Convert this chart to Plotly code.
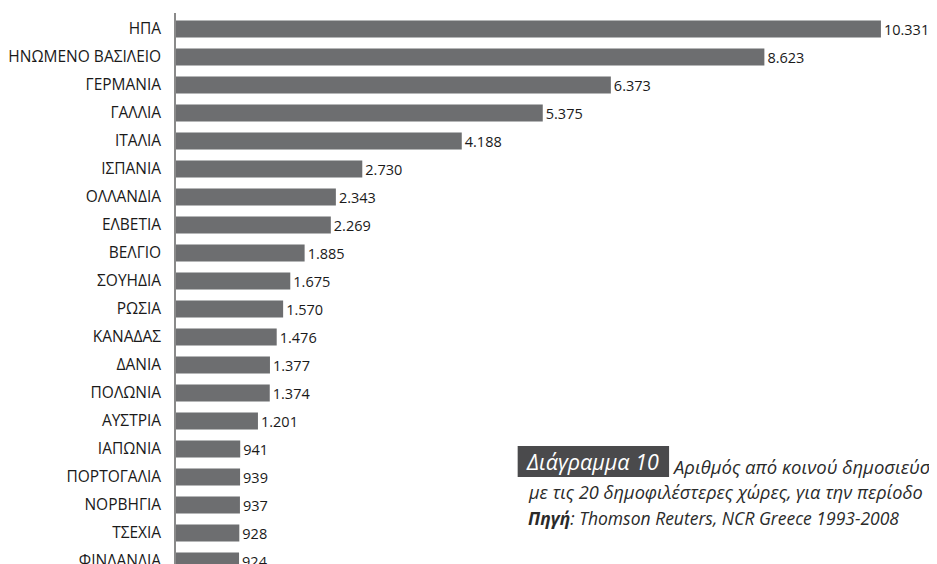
import plotly.graph_objects as go

countries = ["ΗΠΑ", "ΗΝΩΜΕΝΟ ΒΑΣΙΛΕΙΟ", "ΓΕΡΜΑΝΙΑ", "ΓΑΛΛΙΑ", "ΙΤΑΛΙΑ", "ΙΣΠΑΝΙΑ",
             "ΟΛΛΑΝΔΙΑ", "ΕΛΒΕΤΙΑ", "ΒΕΛΓΙΟ", "ΣΟΥΗΔΙΑ", "ΡΩΣΙΑ", "ΚΑΝΑΔΑΣ", "ΔΑΝΙΑ",
             "ΠΟΛΩΝΙΑ", "ΑΥΣΤΡΙΑ", "ΙΑΠΩΝΙΑ", "ΠΟΡΤΟΓΑΛΙΑ", "ΝΟΡΒΗΓΙΑ", "ΤΣΕΧΙΑ", "ΦΙΝΛΑΝΔΙΑ"]
publications = [10331, 8623, 6373, 5375, 4188, 2730, 2343, 2269, 1885, 1675, 1570,
                1476, 1377, 1374, 1201, 941, 939, 937, 928, 924]

caption_tag = "Διάγραμμα 10"
caption_line1 = "Αριθμός από κοινού δημοσιεύσεων"
caption_line2 = "με τις 20 δημοφιλέστερες χώρες, για την περίοδο"
caption_source = "<b>Πηγή</b>: Thomson Reuters, NCR Greece 1993-2008"

OFF = 8  # page body margin
W, H = 937, 564
ML, MT = 165, 5
PW, PH = W - ML, H - MT

def px(x):
    return (x - OFF - ML) / PW

def py(y):
    return (H - (y - OFF)) / PH

FONT = "Open Sans"
top = -0.5 - 2.0 / 28.0

fig = go.Figure(go.Bar(
    x=publications, y=countries, orientation="h",
    marker=dict(color="#6d6e70", line=dict(width=0)),
    width=0.61,
    texttemplate="%{x:,d}", textposition="outside", constraintext="none",
    textfont=dict(family=FONT, size=14.5, color="#1a1a1a"),
    cliponaxis=False,
))

fig.update_layout(
    width=W, height=H,
    margin=dict(l=ML, r=0, t=MT, b=0),
    paper_bgcolor="white", plot_bgcolor="white",
    separators=",.",
    showlegend=False,
    xaxis=dict(range=[0, PW / 0.0685], visible=False, fixedrange=True),
    yaxis=dict(
        type="category", range=[top + PH / 28.0, top], showgrid=False, zeroline=False,
        showline=True, linecolor="#8a8a8a", linewidth=1.5,
        ticks="", ticklabelstandoff=10,
        tickfont=dict(family=FONT, size=15.5, color="#1a1a1a"),
    ),
)

fig.add_shape(type="rect", xref="paper", yref="paper",
              x0=px(516), x1=px(668), y0=py(477), y1=py(446),
              fillcolor="#4a4a4c", line=dict(width=0), layer="above")

fig.add_annotation(xref="paper", yref="paper", x=px(522), y=py(461),
                   xanchor="left", yanchor="middle", showarrow=False,
                   text="<i>" + caption_tag + "</i>",
                   font=dict(family=FONT, size=21.5, color="white"))
fig.add_annotation(xref="paper", yref="paper", x=px(669), y=py(466),
                   xanchor="left", yanchor="middle", showarrow=False,
                   text="<i>" + caption_line1 + "</i>",
                   font=dict(family=FONT, size=18.5, color="#2a2a2a"))
fig.add_annotation(xref="paper", yref="paper", x=px(524), y=py(492),
                   xanchor="left", yanchor="middle", showarrow=False,
                   text="<i>" + caption_line2 + "</i>",
                   font=dict(family=FONT, size=18.2, color="#2a2a2a"))
fig.add_annotation(xref="paper", yref="paper", x=px(524), y=py(518),
                   xanchor="left", yanchor="middle", showarrow=False,
                   text="<i>" + caption_source + "</i>",
                   font=dict(family=FONT, size=17.5, color="#2a2a2a"))

fig.write_html("out.html")
